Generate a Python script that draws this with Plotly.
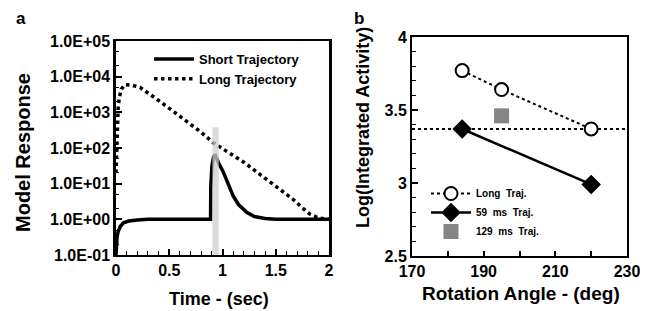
import plotly.graph_objects as go

# ---------- Panel a data ----------
long_t = [0, 0.005, 0.01, 0.02, 0.03, 0.05, 0.085, 0.15, 0.225, 0.3, 0.4, 0.554, 0.7, 0.8,
          0.914, 1.0, 1.1, 1.2, 1.29, 1.4, 1.5, 1.6, 1.665, 1.75, 1.82, 1.9, 2.0]
long_v = [20, 100, 400, 1250, 2500, 4500, 6000, 5750, 5000, 3550, 2150, 980, 470, 275,
          140, 95, 63, 40, 25, 14, 8.3, 5.0, 3.6, 2.1, 1.4, 1.1, 1.0]

short_t = [0, 0.005, 0.01, 0.02, 0.04, 0.07, 0.12, 0.2, 0.3, 0.888, 0.89, 0.9, 0.915, 0.93,
           0.96, 1.005, 1.05, 1.1, 1.15, 1.23, 1.3, 1.4, 1.5, 2.0]
short_v = [0.1, 0.2, 0.32, 0.45, 0.63, 0.8, 0.9, 0.96, 1.0, 1.0, 8, 30, 55, 66,
           40, 22, 10, 4.5, 2.6, 1.55, 1.2, 1.05, 1.0, 1.0]

bar_t = [0.905, 0.965]
bar_v = [0.1, 380]

ya_vals = [0.1, 1, 10, 100, 1000, 10000, 100000]
ya_text = ["1.0E-01", "1.0E+00", "1.0E+01", "1.0E+02", "1.0E+03", "1.0E+04", "1.0E+05"]

# ---------- Panel b data ----------
long_angle = [184, 195, 220]
long_act = [3.77, 3.64, 3.37]
ms59_angle = [184, 220]
ms59_act = [3.37, 2.99]
ms129_angle = [195]
ms129_act = [3.46]
ref_level = 3.37

FONT = "Liberation Sans"
W, H = 648, 311
OFF = 8  # page body margin in the browser


def xp(px):
    return (px - OFF) / W


def yp(py):
    return 1 - (py - OFF) / H


fig = go.Figure()

fig.add_trace(go.Scatter(x=short_t, y=short_v, mode="lines", name="Short Trajectory",
                         line=dict(color="black", width=3.5), xaxis="x", yaxis="y",
                         legend="legend"))
fig.add_trace(go.Scatter(x=long_t, y=long_v, mode="lines", name="Long Trajectory",
                         line=dict(color="black", width=3.5, dash="dot"), xaxis="x", yaxis="y",
                         legend="legend"))

fig.add_trace(go.Scatter(x=[170, 230], y=[ref_level, ref_level], mode="lines",
                         line=dict(color="black", width=2, dash="dot"), showlegend=False,
                         xaxis="x2", yaxis="y2"))
fig.add_trace(go.Scatter(x=long_angle, y=long_act, mode="lines+markers", name="Long  Traj.",
                         line=dict(color="black", width=2, dash="dot"),
                         marker=dict(symbol="circle", size=13, color="white",
                                     line=dict(color="black", width=2)),
                         xaxis="x2", yaxis="y2", legend="legend2"))
fig.add_trace(go.Scatter(x=ms59_angle, y=ms59_act, mode="lines+markers", name="59  ms  Traj.",
                         line=dict(color="black", width=2.5),
                         marker=dict(symbol="diamond", size=15, color="black"),
                         xaxis="x2", yaxis="y2", legend="legend2"))
fig.add_trace(go.Scatter(x=ms129_angle, y=ms129_act, mode="markers", name="129  ms  Traj.",
                         marker=dict(symbol="square", size=15, color="#858585"),
                         xaxis="x2", yaxis="y2", legend="legend2"))

fig.add_shape(type="rect", xref="x", yref="y", x0=bar_t[0], x1=bar_t[1], y0=bar_v[0], y1=bar_v[1],
              fillcolor="#cfcfcf", opacity=0.75, line=dict(width=0), layer="above")

tickfont = dict(family=FONT, size=16, color="black", weight="bold")


def ann(text, x, y, size, angle=0):
    return dict(text=text, x=xp(x), y=yp(y), xref="paper", yref="paper", showarrow=False,
                xanchor="center", yanchor="middle", textangle=angle,
                font=dict(family=FONT, size=size, weight="bold", color="black"))


fig.update_layout(
    width=W, height=H,
    margin=dict(l=0, r=0, t=0, b=0, autoexpand=False),
    paper_bgcolor="white", plot_bgcolor="white",
    font=dict(family=FONT, color="black"),
    xaxis=dict(domain=[xp(116), xp(329)], range=[0, 2], tickvals=[0, 0.5, 1, 1.5, 2],
               ticktext=["0", "0.5", "1", "1.5", "2"],
               ticks="inside", ticklen=6, tickwidth=1.5, tickcolor="black",
               minor=dict(dtick=0.1, ticks="inside", ticklen=4, tickwidth=1, tickcolor="black"),
               showline=True, linewidth=2, linecolor="black", mirror=True, automargin=False,
               showgrid=False, zeroline=False, tickfont=tickfont, anchor="y"),
    yaxis=dict(domain=[yp(255), yp(41)], type="log", range=[-1, 5],
               tickvals=ya_vals, ticktext=ya_text,
               ticks="inside", ticklen=6, tickwidth=1.5, tickcolor="black",
               minor=dict(ticks="inside", ticklen=3, tickwidth=1, tickcolor="black"),
               showline=True, linewidth=2.5, linecolor="black", mirror=True, automargin=False,
               showgrid=False, zeroline=False, tickfont=tickfont, anchor="x"),
    xaxis2=dict(domain=[xp(412), xp(627)], range=[170, 230], tickvals=[170, 190, 210, 230],
                ticks="inside", ticklen=5, tickwidth=1.5, tickcolor="black",
                minor=dict(dtick=10, ticks="inside", ticklen=5, tickwidth=1.5, tickcolor="black"),
                showline=True, linewidth=2, linecolor="black", mirror=True, automargin=False,
                showgrid=False, zeroline=False, tickfont=tickfont, anchor="y2"),
    yaxis2=dict(domain=[yp(256), yp(37)], range=[2.5, 4], tickvals=[2.5, 3, 3.5, 4],
                ticktext=["2.5", "3", "3.5", "4"],
                ticks="inside", ticklen=6, tickwidth=1.5, tickcolor="black",
                minor=dict(dtick=0.1, ticks="inside", ticklen=4, tickwidth=1, tickcolor="black"),
                showline=True, linewidth=2, linecolor="black", mirror=True, automargin=False,
                showgrid=False, zeroline=False, tickfont=tickfont, anchor="x2"),
    legend=dict(x=xp(149), y=yp(44), xanchor="left", yanchor="top",
                bgcolor="rgba(0,0,0,0)", font=dict(family=FONT, size=13, weight="bold"),
                tracegroupgap=0, itemwidth=40),
    legend2=dict(x=xp(426), y=yp(179), xanchor="left", yanchor="top",
                 bgcolor="rgba(0,0,0,0)", font=dict(family=FONT, size=10, weight="bold"),
                 tracegroupgap=0, itemwidth=40),
    annotations=[
        ann("a", 21, 19, 17),
        ann("b", 359, 19, 17),
        ann("Model Response", 23, 153, 20, -90),
        ann("Time - (sec)", 219, 299, 18),
        ann("Log(Integrated Activity)", 363, 128, 18, -90),
        ann("Rotation Angle - (deg)", 521, 293, 19),
    ],
)

fig.write_html("out.html")
